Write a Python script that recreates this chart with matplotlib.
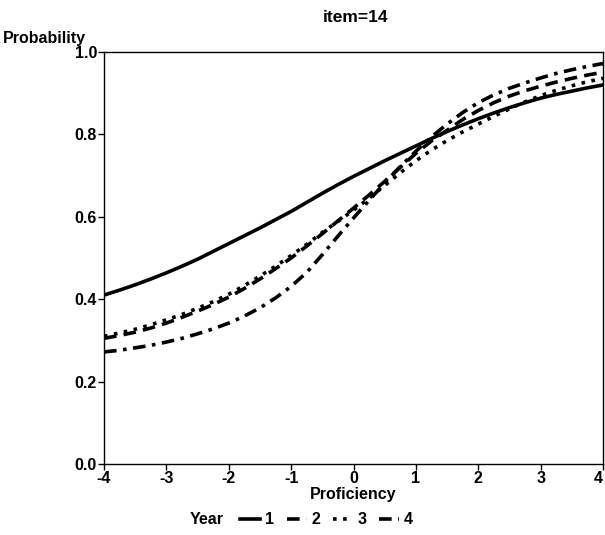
import numpy as np
import matplotlib
matplotlib.use('Agg')
import matplotlib.pyplot as plt

plt.rcParams['font.family'] = ['Liberation Sans', 'DejaVu Sans']
plt.rcParams['font.weight'] = 'bold'
plt.rcParams['axes.unicode_minus'] = False

# proficiency grid and probability
theta = [-4, -3.75, -3.5, -3.25, -3, -2.75, -2.5, -2.25, -2, -1.75, -1.5,
         -1.25, -1, -0.75, -0.5, -0.25, 0, 0.25, 0.5, 0.75, 1, 1.25, 1.5,
         1.75, 2, 2.25, 2.5, 2.75, 3, 3.25, 3.5, 3.75, 4]
year1 = [0.410, 0.422, 0.435, 0.449, 0.464, 0.480, 0.497, 0.516, 0.535,
         0.554, 0.573, 0.593, 0.613, 0.635, 0.657, 0.678, 0.698, 0.717,
         0.736, 0.754, 0.772, 0.790, 0.807, 0.823, 0.838, 0.852, 0.865,
         0.877, 0.888, 0.897, 0.905, 0.913, 0.920]
year2 = [0.305, 0.312, 0.320, 0.330, 0.342, 0.356, 0.371, 0.387, 0.405,
         0.426, 0.449, 0.474, 0.500, 0.529, 0.559, 0.590, 0.621, 0.653,
         0.686, 0.720, 0.754, 0.784, 0.810, 0.836, 0.858, 0.877, 0.893,
         0.906, 0.917, 0.927, 0.936, 0.944, 0.951]
year3 = [0.310, 0.318, 0.327, 0.338, 0.350, 0.363, 0.378, 0.394, 0.412,
         0.433, 0.456, 0.480, 0.506, 0.533, 0.562, 0.589, 0.616, 0.645,
         0.676, 0.707, 0.736, 0.762, 0.785, 0.806, 0.825, 0.844, 0.862,
         0.879, 0.894, 0.907, 0.918, 0.928, 0.936]
year4 = [0.272, 0.276, 0.282, 0.288, 0.296, 0.305, 0.316, 0.328, 0.342,
         0.359, 0.379, 0.403, 0.431, 0.465, 0.508, 0.553, 0.597, 0.640,
         0.682, 0.722, 0.759, 0.794, 0.825, 0.853, 0.877, 0.896, 0.912,
         0.925, 0.937, 0.948, 0.957, 0.965, 0.972]

years = ['1', '2', '3', '4']
series = [year1, year2, year3, year4]
styles = ['-', (0, (3.5, 2)), (0, (1, 1.8)), (0, (3.5, 1.8, 1, 1.8))]

fig = plt.figure(figsize=(6.05, 5.35), dpi=100)
ax = fig.add_axes([104 / 605, 1 - 464 / 535, 499 / 605, 412 / 535])

for lab, ys, ls in zip(years, series, styles):
    ax.plot(theta, ys, color='black', lw=2.6, linestyle=ls, label=lab)

ax.set_xlim(-4, 4)
ax.set_ylim(0, 1)
ax.set_xticks(range(-4, 5))
ax.set_yticks([0, 0.2, 0.4, 0.6, 0.8, 1.0])
ax.set_yticklabels(['0.0', '0.2', '0.4', '0.6', '0.8', '1.0'])
ax.tick_params(labelsize=11.5, length=4, width=1, pad=1)
ax.get_xticklabels()[-1].set_horizontalalignment('right')
for s in ax.spines.values():
    s.set_linewidth(1)

ax.set_xlabel('Proficiency', fontsize=11.5, fontweight='bold', labelpad=1)
fig.text(355 / 605, 1 - 18 / 535, 'item=14', ha='center', va='center',
         fontsize=12.5, fontweight='bold')
fig.text(3 / 605, 1 - 38 / 535, 'Probability', ha='left', va='center',
         fontsize=11.5, fontweight='bold')

fig.text(190 / 605, 1 - 520 / 535, 'Year', ha='left', va='center',
         fontsize=11.5, fontweight='bold')
fig.legend(loc='center left', bbox_to_anchor=(240 / 605, 1 - 520 / 535),
           ncol=4, frameon=False, fontsize=11.5, handlelength=1.25,
           handletextpad=0.3, columnspacing=0.8, borderpad=0, borderaxespad=0)

fig.savefig('out.png', dpi=100)
